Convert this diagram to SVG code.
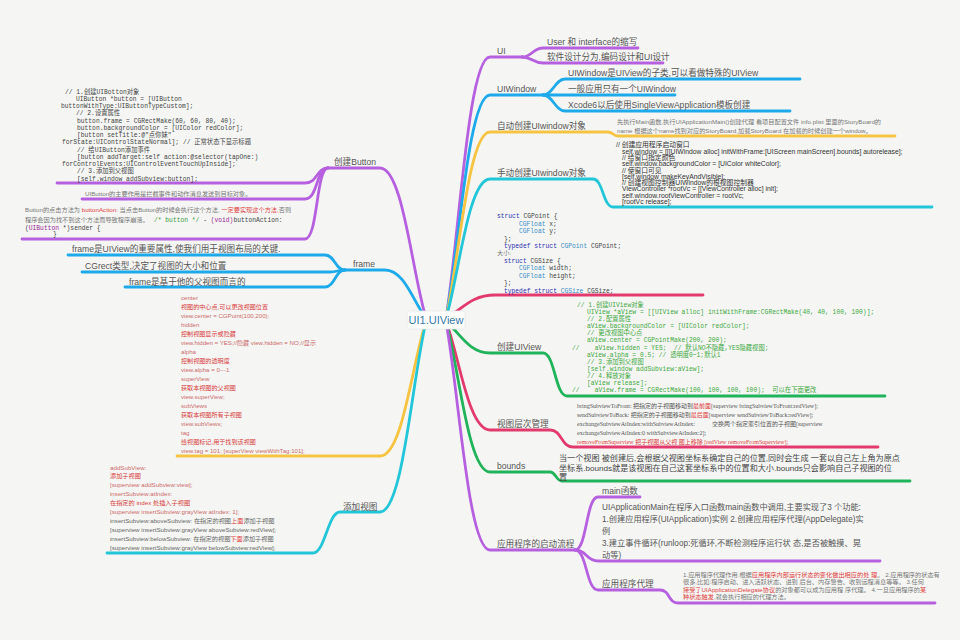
<svg xmlns="http://www.w3.org/2000/svg" width="960" height="640" viewBox="0 0 960 640">
<style>
.br{fill:none;stroke-width:2.8;stroke-linecap:round}
.p{stroke:#b660e0}.b{stroke:#1eaaea}.y{stroke:#f6c343}.c{stroke:#22c6d8}.r{stroke:#e23a6c}.g{stroke:#20b35a}
text{font-family:"Liberation Sans","Noto Sans CJK SC",sans-serif}
.l{font-size:8.6px;fill:#555}
.s{font-size:6.2px;fill:#777}
.m{font-family:"Liberation Mono","Noto Sans CJK SC",monospace;font-size:6.3px;fill:#444;white-space:pre}
.f{font-family:"Liberation Serif","Noto Sans CJK SC",serif;font-size:6px;fill:#555;white-space:pre}
.w{font-size:6.8px;fill:#333}
.red{fill:#e03c3c}.kw{fill:#2b2bb0}.ty{fill:#3a8cc6}.gr{fill:#3ea83e}.pk{fill:#cc6a6a}.rd{fill:#d83a3a}.vd{fill:#9b2393}.cm{fill:#3a9a3a}
</style>
<rect width="960" height="640" fill="#f5f6f4"/>
<g id="connectors" class="br">
<path class="p" d="M446 318 C459 240 468 57 490 57 H522"/>
<path class="p" d="M522 57 C532 57 533 48 543 48 H638"/>
<path class="p" d="M522 57 C532 57 533 63 543 63 H663"/>
<path class="b" d="M446 318 C459 251 468 95 490 95 H543"/>
<path class="b" d="M543 95 C553 95 555 79 565 79 H800"/>
<path class="b" d="M543 95 H675"/>
<path class="b" d="M543 95 C553 95 555 111 565 111 H790"/>
<path class="y" d="M446 318 C459 262 468 132 490 132 H608 C613 132 613 136 618 136 H895"/>
<path class="c" d="M446 318 C459 276 468 179 490 179 H593 C603 179 603 207 613 207 H932"/>
<path class="r" d="M446 318 C461 311 470 295 495 295 H703"/>
<path class="g" d="M446 322 C459 331 468 353 490 353 H543 C555 353 555 396 567 396 H885"/>
<path class="r" d="M446 322 C459 354 468 430 490 430 H550 C562 430 561 447 573 447 H878"/>
<path class="g" d="M446 322 C459 367 468 472 490 472 H550 C556 472 556 481 562 481 H910"/>
<path class="p" d="M446 322 C459 392 468 550 490 550 H575"/>
<path class="p" d="M575 550 C587 550 586 497 598 497 H640"/>
<path class="p" d="M575 550 C587 550 586 561 598 561 H880"/>
<path class="p" d="M575 550 C587 550 586 590 598 590 H660 C670 590 668 603 678 603 H935"/>
<path class="p" d="M426 318 C412 273 403 168 380 168 H328"/>
<path class="p" d="M328 168 C316 168 318 183 305 183 H57"/>
<path class="p" d="M328 168 C316 168 318 199 305 199 H82"/>
<path class="p" d="M328 168 C316 168 318 239 305 239 H22"/>
<path class="b" d="M426 318 C414 304 405 270 385 270 H345"/>
<path class="b" d="M345 270 C335 270 335 255 325 255 H68"/>
<path class="b" d="M345 270 C338 270 337 272 330 272 H82"/>
<path class="b" d="M345 270 C335 270 335 287 325 287 H125"/>
<path class="y" d="M426 322 C412 362 403 456 380 456 H177"/>
<path class="c" d="M426 322 C412 379 403 512 380 512 H340 C328 512 325 553 313 553 H107"/>
</g>
<g id="center">
<rect x="407" y="311" width="58" height="18" rx="2" fill="#fff" stroke="#e4e7e7" stroke-width="0.8"/>
<text x="436" y="324" text-anchor="middle" font-size="11" fill="#3478a8">UI1.UIView</text>
</g>
<g id="node-ui">
<text class="l" x="497" y="53.5">UI</text>
<text class="l" x="547" y="45">User 和 interface的缩写</text>
<text class="l" x="547" y="60">软件设计分为,编码设计和UI设计</text>
</g>
<g id="node-uiwindow">
<text class="l" x="497" y="92">UIWindow</text>
<text class="l" x="568" y="76">UIWindow是UIView的子类,可以看做特殊的UIView</text>
<text class="l" x="568" y="92">一般应用只有一个UIWindow</text>
<text class="l" x="568" y="108">Xcode6以后使用SingleViewApplication模板创建</text>
</g>
<g id="node-auto-window">
<text class="l" x="497" y="129">自动创建UIwindow对象</text>
<text class="s" x="617" y="124.2">先执行Main函数,执行UIApplicationMain()创建代理 看项目配置文件 info.plist 里面的StoryBoard的</text>
<text class="s" x="617" y="133.2">name 根据这个name找到对应的StoryBoard,加载StoryBoard 在加载的时候创建一个window。</text>
</g>
<g id="node-manual-window">
<text class="l" x="497" y="176">手动创建UIwindow对象</text>
<text class="w" x="616" y="147.3">// 创建应用程序启动窗口</text>
<text class="w" x="622" y="153.6">self.window = [[[UIWindow alloc] initWithFrame:[UIScreen mainScreen].bounds] autorelease];</text>
<text class="w" x="622" y="159.9">// 给窗口指定颜色</text>
<text class="w" x="622" y="166.2">self.window.backgroundColor = [UIColor whiteColor];</text>
<text class="w" x="622" y="172.5">// 使窗口可见</text>
<text class="w" x="622" y="178.8">[self.window makeKeyAndVisible];</text>
<text class="w" x="622" y="185.1">// 创建视图控制器UIWindow的根视图控制器</text>
<text class="w" x="622" y="191.4">ViewController *rootVc = [[ViewController alloc] init];</text>
<text class="w" x="622" y="197.7">self.window.rootViewController = rootVc;</text>
<text class="w" x="622" y="204">[rootVc release];</text>
</g>
<g id="node-struct">
<text class="m" x="497" y="218.2"><tspan class="kw">struct</tspan> CGPoint {</text>
<text class="m" x="519" y="225.6"><tspan class="ty">CGFloat</tspan> x;</text>
<text class="m" x="519" y="233.1"><tspan class="ty">CGFloat</tspan> y;</text>
<text class="m" x="504" y="240.5">};</text>
<text class="m" x="504" y="247.9"><tspan class="kw">typedef</tspan> <tspan class="kw">struct</tspan> <tspan class="ty">CGPoint</tspan> CGPoint;</text>
<text class="s" x="497" y="255.4">大小:</text>
<text class="m" x="504" y="262.8"><tspan class="kw">struct</tspan> CGSize {</text>
<text class="m" x="519" y="270.2"><tspan class="ty">CGFloat</tspan> width;</text>
<text class="m" x="519" y="277.6"><tspan class="ty">CGFloat</tspan> height;</text>
<text class="m" x="504" y="285.1">};</text>
<text class="m" x="504" y="292.5"><tspan class="kw">typedef</tspan> <tspan class="kw">struct</tspan> <tspan class="ty">CGSize</tspan> CGSize;</text>
</g>
<g id="node-create-uiview">
<text class="l" x="497" y="350">创建UIView</text>
<g class="gr">
<text class="m gr" x="577" y="307.2">// 1.创建UIView对象</text>
<text class="m gr" x="587" y="314.25">UIView *aView = [[UIView alloc] initWithFrame:CGRectMake(40, 40, 100, 100)];</text>
<text class="m gr" x="587" y="321.3">// 2.配置属性</text>
<text class="m gr" x="587" y="328.35">aView.backgroundColor = [UIColor redColor];</text>
<text class="m gr" x="587" y="335.4">// 更改视图中心点</text>
<text class="m gr" x="587" y="342.45">aView.center = CGPointMake(200, 200);</text>
<text class="m gr" x="572" y="349.5" xml:space="preserve">//    aView.hidden = YES;  // 默认NO不隐藏,YES隐藏视图;</text>
<text class="m gr" x="587" y="356.55">aView.alpha = 0.5; // 透明度0~1;默认1</text>
<text class="m gr" x="587" y="363.6">// 3.添加到父视图</text>
<text class="m gr" x="587" y="370.65">[self.window addSubview:aView];</text>
<text class="m gr" x="587" y="377.7">// 4.释放对象</text>
<text class="m gr" x="587" y="384.75">[aView release];</text>
<text class="m gr" x="572" y="391.8" xml:space="preserve">//    aView.frame = CGRectMake(100, 100, 100, 100);  可以在下面更改</text>
</g>
</g>
<g id="node-hierarchy">
<text class="l" x="497" y="426.5">视图层次管理</text>
<text class="f" x="577" y="408.2">bringSubviewToFront: 把指定的子视图移动到<tspan class="red">最前面</tspan>[superview bringSubviewToFront:redView];</text>
<text class="f" x="577" y="417.1">sendSubviewToBack: 把指定的子视图移动到<tspan class="red">最后面</tspan>[superview sendSubviewToBack:redView];</text>
<text class="f" x="577" y="426">exchangeSubviewAtIndex:withSubviewAtIndex:<tspan x="712">交换两个指定索引位置的子视图[superview</tspan></text>
<text class="f" x="577" y="434.9">exchangeSubviewAtIndex:0 withSubviewAtIndex:2];</text>
<text class="f red" x="577" y="443.8">removeFromSuperview 把子视图从父视 图上移除 [redView removeFromSuperview];</text>
</g>
<g id="node-bounds">
<text class="l" x="497" y="469">bounds</text>
<text font-size="8.1" fill="#444" x="559" y="461">当一个视图 被创建后,会根据父视图坐标系确定自己的位置,同时会生成 一套以自己左上角为原点</text>
<text font-size="8.1" fill="#444" x="559" y="470.5">坐标系.bounds就是该视图在自己这套坐标系中的位置和大小.bounds只会影响自己子视图的位</text>
<text font-size="8.1" fill="#444" x="559" y="480">置</text>
</g>
<g id="node-launch">
<text class="l" x="497" y="547">应用程序的启动流程</text>
<text class="l" x="602" y="493.5">main函数</text>
<text font-size="8.2" fill="#555" x="602" y="510">UIApplicationMain在程序入口函数main函数中调用,主要实现了3 个功能:</text>
<text font-size="8.2" fill="#555" x="602" y="522">1.创建应用程序(UIApplication)实例 2.创建应用程序代理(AppDelegate)实</text>
<text font-size="8.2" fill="#555" x="602" y="534">例</text>
<text font-size="8.2" fill="#555" x="602" y="546">3.建立事件循环(runloop:死循环,不断检测程序运行状 态,是否被触摸、晃</text>
<text font-size="8.2" fill="#555" x="602" y="557.5">动等)</text>
</g>
<g id="node-delegate">
<text class="l" x="602" y="586.5">应用程序代理</text>
<text class="s" font-size="5.9" x="683" y="577">1.应用程序代理作用:根据<tspan class="red">应用程序内部运行状态的变化做出相应的处 理</tspan>。 2.应用程序的状态有</text>
<text class="s" font-size="5.9" x="683" y="584.3">很多,比如:程序启动、进入活跃状态、进到 后台、内存警告、收到远程消息等等。 3.任何</text>
<text class="s" font-size="5.9" x="683" y="591.6"><tspan class="red">接受了UIApplicationDelegate协议</tspan>的对象都可以成为应用程 序代理。 4.一旦应用程序的<tspan class="red">某</tspan></text>
<text class="s" font-size="5.9" x="683" y="598.9"><tspan class="red">种状态触发</tspan>,就会执行相应的代理方法。</text>
</g>
<g id="node-button">
<text class="l" x="334" y="165">创建Button</text>
<text class="m" x="65" y="93.5">// 1.创建UIBotton对象</text>
<text class="m" x="76" y="100.75">UIButton *button = [UIButton</text>
<text class="m" x="61" y="108">buttonWithType:UIButtonTypeCustom];</text>
<text class="m" x="76" y="115.25">// 2.设置属性</text>
<text class="m" x="77" y="122.5">button.frame = CGRectMake(60, 60, 80, 40);</text>
<text class="m" x="77" y="129.75">button.backgroundColor = [UIColor redColor];</text>
<text class="m" x="77" y="137">[button setTitle:@"点你妹"</text>
<text class="m" x="62" y="144.25">forState:UIControlStateNormal]; // 正常状态下显示标题</text>
<text class="m" x="77" y="151.5">// 给UIButton添加事件</text>
<text class="m" x="77" y="158.75">[button addTarget:self action:@selector(tapOne:)</text>
<text class="m" x="62" y="166">forControlEvents:UIControlEventTouchUpInside];</text>
<text class="m" x="77" y="173.25">// 3.添加到父视图</text>
<text class="m" x="77" y="180.5">[self.window addSubview:button];</text>
<text class="s" x="85" y="195.5">UIButton的主要作用是拦截事件和动作消息发送到目标对象。</text>
<text class="s" x="25" y="212">Button的点击方法为 <tspan class="red">buttonAction:</tspan> 当点击Button的时候会执行这个方法, <tspan class="red">一定要实现这个方法,</tspan>否则</text>
<text class="s" x="25" y="221.5">程序会因为找不到这个方法而导致程序崩溃。<tspan class="m cm" x="154">/* button */</tspan><tspan class="m"> - </tspan><tspan class="m vd">(void)</tspan><tspan class="m">buttonAction:</tspan></text>
<text class="m" x="25" y="229.5">(<tspan class="vd">UIButton</tspan> *)sender {</text>
<text class="m" x="53" y="235.5">}</text>
</g>
<g id="node-frame">
<text class="l" x="353" y="267">frame</text>
<text class="l" x="72" y="251.5">frame是UIView的重要属性,使我们用于视图布局的关键.</text>
<text class="l" x="85" y="268.5">CGrect类型,决定了视图的大小和位置</text>
<text class="l" x="129" y="284.5">frame是基于他的父视图而言的</text>
</g>
<g id="node-properties" font-size="6.1">
<text class="pk" x="181" y="300">center</text>
<text class="rd" x="181" y="309">视图的中心点,可以更改视图位置</text>
<text class="pk" x="181" y="318">view.center = CGPoint(100,200);</text>
<text class="pk" x="181" y="327">hidden</text>
<text class="rd" x="181" y="336">控制视图显示或隐藏</text>
<text class="pk" x="181" y="345">view.hidden = YES;//隐藏 view.hidden = NO;//显示</text>
<text class="pk" x="181" y="354">alpha</text>
<text class="rd" x="181" y="363">控制视图的透明度</text>
<text class="pk" x="181" y="372">view.alpha = 0---1</text>
<text class="pk" x="181" y="381">superView</text>
<text class="rd" x="181" y="390">获取本视图的父视图</text>
<text class="pk" x="181" y="399">view.superView;</text>
<text class="pk" x="181" y="408">subViews</text>
<text class="rd" x="181" y="417">获取本视图所有子视图</text>
<text class="pk" x="181" y="426">view.subViews;</text>
<text class="pk" x="181" y="435">tag</text>
<text class="rd" x="181" y="444">给视图标记,用于找到该视图</text>
<text class="pk" x="181" y="453">view.tag = 101; [superView viewWithTag:101];</text>
</g>
<g id="node-addview" font-size="6.2">
<text class="l" x="343" y="510">添加视图</text>
<text class="pk" x="110" y="469.5">addSubView:</text>
<text class="rd" x="110" y="478.4">添加子视图</text>
<text class="pk" x="110" y="487.4">[superview addSubview:view];</text>
<text class="pk" x="110" y="496.3">insertSubview:atIndex:</text>
<text class="rd" x="110" y="505.3">在指定的 index 处插入子视图</text>
<text class="pk" x="110" y="514.2">[superview insertSubview:grayView atIndex: 1];</text>
<text fill="#666" x="110" y="523.1">insertSubview:aboveSubview: 在指定的视图<tspan class="red">上面</tspan>添加子视图</text>
<text fill="#666" x="110" y="532.1">[superview insertSubview:grayView aboveSubview:redView];</text>
<text fill="#666" x="110" y="541">insertSubview:belowSubview: 在指定的视图<tspan class="red">下面</tspan>添加子视图</text>
<text fill="#666" x="110" y="550">[superview insertSubview:grayView belowSubview:redView];</text>
</g>
</svg>
